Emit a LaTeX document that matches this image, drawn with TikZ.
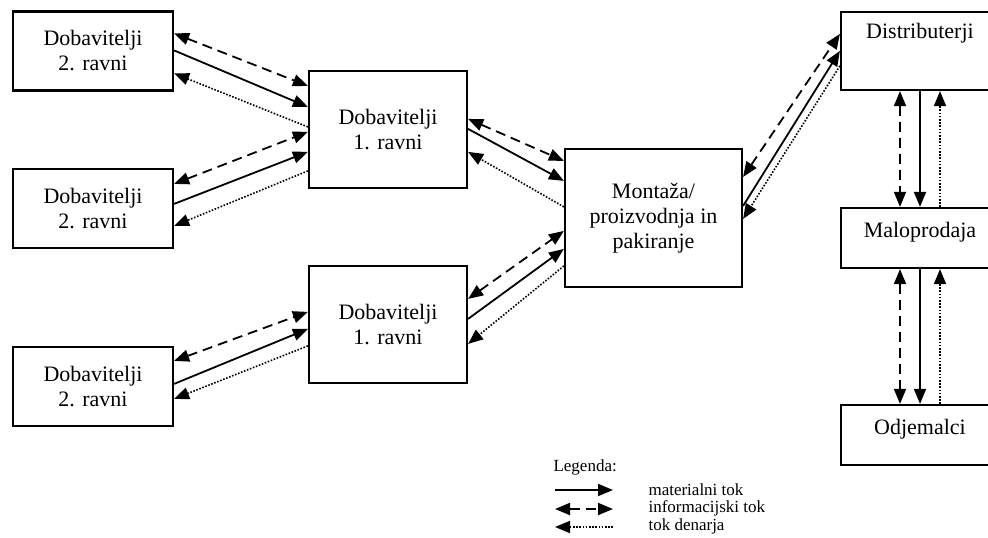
\documentclass[tikz,border=0pt]{standalone}
\usepackage{fontspec}
\setmainfont{Liberation Serif}
\usetikzlibrary{arrows.meta,calc,positioning}

\begin{document}
\begin{tikzpicture}[
      x=1pt, y=-1pt,
      every node/.style={font=\fontsize{22}{25}\selectfont},
      box/.style={draw, line width=2.2pt, align=center, inner sep=0pt},
      sup2/.style={box, minimum width=160pt, minimum height=79pt},
      sup1/.style={box, minimum width=158pt, minimum height=117pt},
      chain/.style={box, minimum width=158pt, minimum height=60pt, text depth=16pt},
      legtext/.style={anchor=west, font=\fontsize{17}{19}\selectfont},
      mat/.style={line width=1.8pt, -{Triangle[length=15pt, width=12pt]}},
      inf/.style={line width=1.8pt, dash pattern=on 10pt off 6pt,
        {Triangle[length=15pt, width=12pt]}-{Triangle[length=15pt, width=12pt]}},
      den/.style={line width=1.6pt, dash pattern=on 1.6pt off 1.6pt,
        -{Triangle[length=15pt, width=12pt]}}
    ]
      \useasboundingbox (0,0) rectangle (988,538);

      % nodes
      \node[sup2] (s2a) at (93,51) {Dobavitelji\\2. ravni};
      \node[sup2] (s2b) at (93,208.5) {Dobavitelji\\2. ravni};
      \node[sup2] (s2c) at (93,386.5) {Dobavitelji\\2. ravni};
      \node[sup1] (s1a) at (388,129.5) {Dobavitelji\\1. ravni};
      \node[sup1] (s1b) at (388,324.5) {Dobavitelji\\1. ravni};
      \node[box, minimum width=177pt, minimum height=138pt] (mont) at (653.5,218)
        {Monta\v{z}a/\\proizvodnja in\\pakiranje};
      \node[box, minimum width=158pt, minimum height=78pt, text depth=40pt] (dist) at (920,51) {Distributerji};
      \node[chain] (malo) at (920,238) {Maloprodaja};
      \node[chain] (odj) at (920,435) {Odjemalci};

      % 2. ravni -> 1. ravni
      \draw[inf] ($(s2a.north east)+(0,23)$) -- ($(s1a.north west)+(0,16)$);
      \draw[mat] ($(s2a.north east)+(0,40)$) -- ($(s1a.north west)+(0,37)$);
      \draw[den] ($(s1a.north west)+(0,57)$) -- ($(s2a.north east)+(0,63)$);

      \draw[inf] ($(s2b.north east)+(0,16)$) -- ($(s1a.north west)+(0,62)$);
      \draw[mat] ($(s2b.north east)+(0,36)$) -- ($(s1a.north west)+(0,82)$);
      \draw[den] ($(s1a.north west)+(0,101)$) -- ($(s2b.north east)+(0,58)$);

      \draw[inf] ($(s2c.north east)+(0,15)$) -- ($(s1b.north west)+(0,47)$);
      \draw[mat] ($(s2c.north east)+(0,38)$) -- ($(s1b.north west)+(0,64)$);
      \draw[den] ($(s1b.north west)+(0,81)$) -- ($(s2c.north east)+(0,53)$);

      % 1. ravni -> montaza
      \draw[inf] ($(s1a.north east)+(0,49)$) -- ($(mont.north west)+(0,13)$);
      \draw[mat] ($(s1a.north east)+(0,59)$) -- ($(mont.north west)+(0,33)$);
      \draw[den] ($(mont.north west)+(0,59)$) -- ($(s1a.north east)+(0,82)$);

      \draw[inf] ($(s1b.north east)+(0,34)$) -- ($(mont.north west)+(0,83)$);
      \draw[mat] ($(s1b.north east)+(0,54)$) -- ($(mont.north west)+(0,101)$);
      \draw[den] ($(mont.north west)+(0,118)$) -- ($(s1b.north east)+(0,79)$);

      % montaza -> distributerji
      \draw[inf] ($(mont.north east)+(0,29)$) -- ($(dist.north west)+(0,23)$);
      \draw[mat] ($(mont.north east)+(0,58)$) -- ($(dist.north west)+(0,40)$);
      \draw[den] ($(dist.north west)+(0,55)$) -- ($(mont.north east)+(0,71)$);

      % distributerji -> maloprodaja -> odjemalci
      \draw[inf] ($(dist.south)+(-20,0)$) -- ($(malo.north)+(-20,0)$);
      \draw[mat] (dist.south) -- (malo.north);
      \draw[den] ($(malo.north)+(20,0)$) -- ($(dist.south)+(20,0)$);

      \draw[inf] ($(malo.south)+(-20,0)$) -- ($(odj.north)+(-20,0)$);
      \draw[mat] (malo.south) -- (odj.north);
      \draw[den] ($(odj.north)+(20,0)$) -- ($(malo.south)+(20,0)$);

      % legenda
      \node[legtext] (leg) at (550,467) {Legenda:};
      \coordinate (lm1) at (555,490);
      \coordinate (lm2) at (613,490);
      \coordinate (li1) at (555,509);
      \coordinate (li2) at (613,509);
      \coordinate (ld1) at (555,527);
      \coordinate (ld2) at (613,527);
      \draw[mat] (lm1) -- (lm2);
      \draw[inf] (li1) -- (li2);
      \draw[den] (ld2) -- (ld1);
      \node[legtext] (lmt) at (645,490) {materialni tok};
      \node[legtext] (lit) at (645,508) {informacijski tok};
      \node[legtext] (ldt) at (645,526) {tok denarja};
    \end{tikzpicture}
\end{document}
